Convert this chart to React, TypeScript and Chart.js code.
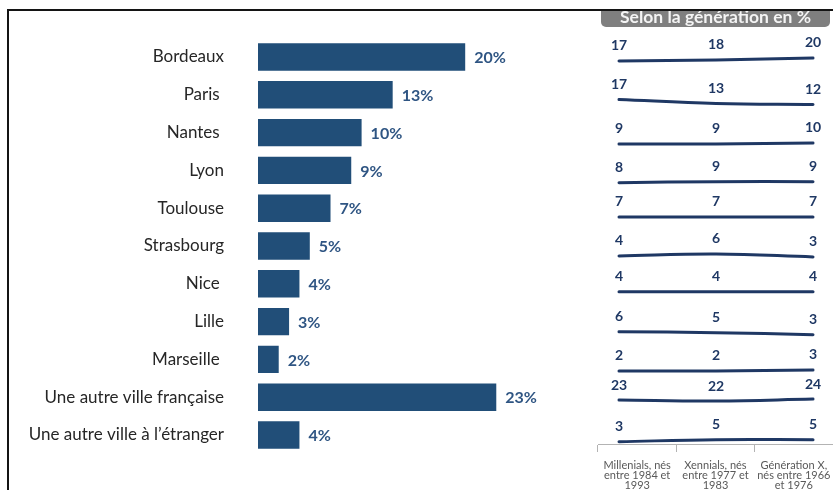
import React, { useEffect, useRef } from "react";
import { Chart, registerables } from "chart.js";

Chart.register(...registerables);

const CITIES = [
  "Bordeaux",
  "Paris ",
  "Nantes ",
  "Lyon",
  "Toulouse",
  "Strasbourg",
  "Nice ",
  "Lille",
  "Marseille ",
  "Une autre ville française",
  "Une autre ville à l’étranger",
];
const TOTAL = [20, 13, 10, 9, 7, 5, 4, 3, 2, 23, 4];

const MILLENIALS = [17, 17, 9, 8, 7, 4, 4, 6, 2, 23, 3];
const XENNIALS = [18, 13, 9, 9, 7, 6, 4, 5, 2, 22, 5];
const GEN_X = [20, 12, 10, 9, 7, 3, 4, 3, 3, 24, 5];

const GEN_LABELS = [
  ["Millenials, nés", "entre 1984 et", "1993"],
  ["Xennials, nés", "entre 1977 et", "1983"],
  ["Génération X,", "nés entre 1966", "et 1976"],
];
const HEADER = "Selon la génération en %";

// per-row scale upper bounds for the small stacked sparkline axes
const ROW_SCALE_TOP = [40, 41.6, 41.2, 42, 38.4, 37.5, 36.3, 41.4, 39.8, 52.9, 37.7];
const ROW_SCALE_SPAN = 37;

const FONT = "Lato, 'Open Sans', sans-serif";
const BAR_COLOR = "#214e78";
const LINE_COLOR = "#1f3864";

const barLabelPlugin = {
  id: "barLabels",
  afterDatasetsDraw(chart: any) {
    const ctx = chart.ctx;
    const meta = chart.getDatasetMeta(0);
    ctx.save();
    ctx.font = `bold 16px ${FONT}`;
    ctx.fillStyle = "#2f5583";
    ctx.textAlign = "left";
    ctx.textBaseline = "middle";
    meta.data.forEach((el: any, i: number) => {
      ctx.fillText(`${chart.data.datasets[0].data[i]}%`, el.x + 9, el.y + 1);
    });
    ctx.restore();
  },
};

const lineLabelPlugin = {
  id: "lineLabels",
  afterDatasetsDraw(chart: any) {
    const ctx = chart.ctx;
    ctx.save();
    ctx.font = `bold 14px ${FONT}`;
    ctx.fillStyle = LINE_COLOR;
    ctx.textAlign = "center";
    ctx.textBaseline = "middle";
    chart.data.datasets.forEach((ds: any, di: number) => {
      const meta = chart.getDatasetMeta(di);
      meta.data.forEach((el: any, i: number) => {
        ctx.fillText(String(ds.data[i].y), el.x, el.y - 15);
      });
    });
    ctx.restore();
  },
};

function BarPanel() {
  const ref = useRef<HTMLCanvasElement>(null);
  useEffect(() => {
    const chart = new Chart(ref.current!, {
      type: "bar",
      data: {
        labels: CITIES,
        datasets: [
          {
            data: TOTAL,
            backgroundColor: BAR_COLOR,
            barPercentage: 0.725,
            categoryPercentage: 1,
          },
        ],
      },
      options: {
        indexAxis: "y",
        animation: false,
        responsive: false,
        maintainAspectRatio: false,
        layout: { padding: { left: 0, right: 11.2, top: 38.1, bottom: 36.1 } },
        plugins: { legend: { display: false }, tooltip: { enabled: false } },
        scales: {
          x: { display: false, min: 0, max: 30 },
          y: {
            afterFit(scale: any) {
              scale.width = 258;
              scale.paddingTop = 0;
              scale.paddingBottom = 0;
            },
            grid: { display: false, drawTicks: false },
            border: { display: false },
            ticks: {
              padding: 34,
              color: "#262626",
              font: { family: FONT, size: 17 },
              autoSkip: false,
            },
          },
        },
      },
      plugins: [barLabelPlugin],
    });
    return () => chart.destroy();
  }, []);
  return (
    <canvas
      ref={ref}
      width={580}
      height={490}
      style={{ position: "absolute", left: 0, top: 0, width: 580, height: 490 }}
    />
  );
}

function LinePanel() {
  const ref = useRef<HTMLCanvasElement>(null);
  useEffect(() => {
    const datasets = CITIES.map((_, r) => ({
      data: [MILLENIALS[r], XENNIALS[r], GEN_X[r]].map((v, i) => ({ x: i, y: v })),
      xAxisID: "x2",
      yAxisID: "r" + r,
      borderColor: LINE_COLOR,
      borderWidth: 3,
      borderCapStyle: "round" as const,
      pointRadius: 0,
      tension: 0.4,
      fill: false,
      clip: false as const,
    }));
    const scales: any = {
      x: {
        type: "category",
        position: "bottom",
        offset: true,
        afterFit(scale: any) {
          scale.height = 46;
          scale.paddingLeft = 0;
          scale.paddingRight = 0;
        },
        grid: {
          display: true,
          offset: true,
          drawOnChartArea: false,
          drawTicks: true,
          tickLength: 8,
          color: "#b3b3b3",
        },
        border: { display: true, color: "#b3b3b3", width: 1 },
        ticks: {
          padding: 8,
          color: "#595959",
          maxRotation: 0,
          autoSkip: false,
          font: { family: FONT, size: 11, lineHeight: 0.91 },
        },
      },
      x2: { type: "linear", display: false, min: -0.2165, max: 2.206 },
    };
    CITIES.forEach((_, r) => {
      scales["r" + r] = {
        type: "linear",
        position: "right",
        stack: "rows",
        stackWeight: 1,
        display: false,
        min: ROW_SCALE_TOP[r] - ROW_SCALE_SPAN,
        max: ROW_SCALE_TOP[r],
      };
    });
    const chart = new Chart(ref.current!, {
      type: "line",
      data: { labels: GEN_LABELS as any, datasets },
      options: {
        animation: false,
        responsive: false,
        maintainAspectRatio: false,
        layout: { padding: { left: 8, right: 0, top: 38, bottom: 0 } },
        plugins: { legend: { display: false }, tooltip: { enabled: false } },
        scales,
      },
      plugins: [lineLabelPlugin],
    });
    return () => chart.destroy();
  }, []);
  return (
    <canvas
      ref={ref}
      width={243}
      height={490}
      style={{ position: "absolute", left: 590, top: 0, width: 243, height: 490 }}
    />
  );
}

export default function App() {
  return (
    <div
      style={{
        position: "absolute",
        left: 0,
        top: 0,
        width: 833,
        height: 490,
        overflow: "hidden",
        background: "#ffffff",
      }}
    >
      <div
        style={{
          position: "absolute",
          left: 7,
          top: 9,
          width: 900,
          height: 600,
          borderTop: "2px solid #141414",
          borderLeft: "2px solid #141414",
        }}
      />
      <BarPanel />
      <LinePanel />
      <div
        style={{
          position: "absolute",
          left: 601,
          top: 11,
          width: 229,
          height: 16,
          background: "#7f7f7f",
          borderRadius: "0 0 5px 5px",
          overflow: "hidden",
        }}
      >
        <div
          style={{
            position: "relative",
            top: -2,
            textAlign: "center",
            color: "#f4f4f4",
            fontFamily: FONT,
            fontWeight: 700,
            fontSize: 17.5,
            lineHeight: "16px",
            whiteSpace: "nowrap",
          }}
        >
          {HEADER}
        </div>
      </div>
    </div>
  );
}
